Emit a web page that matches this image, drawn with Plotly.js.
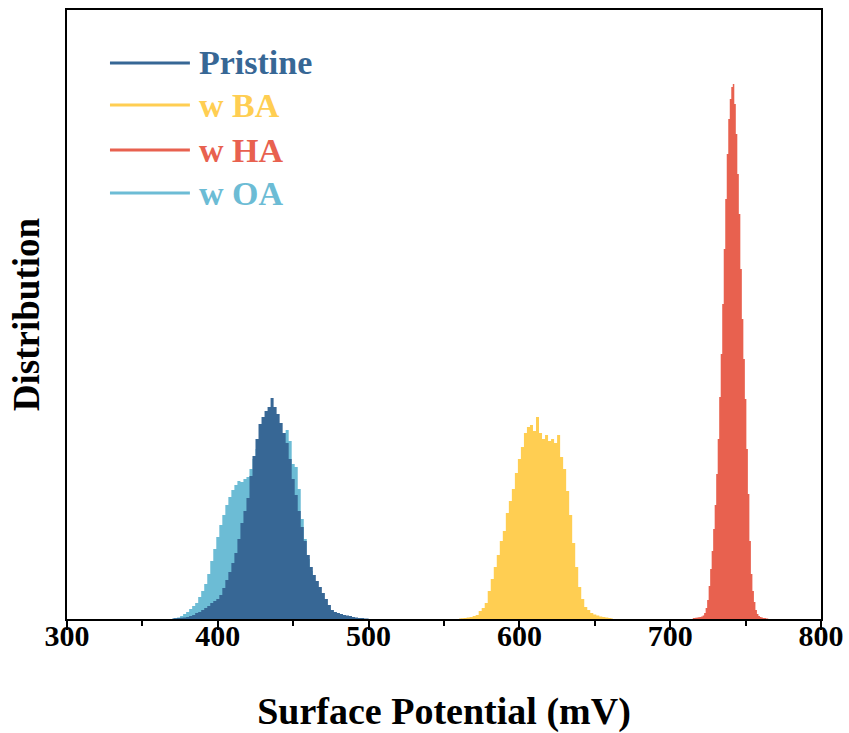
<!DOCTYPE html>
<html>
<head>
<meta charset="utf-8">
<script src="https://cdn.plot.ly/plotly-3.0.1.min.js"></script>
<style>html,body{margin:0;padding:0;background:#fff;}#chart{width:849px;height:733px;}</style>
</head>
<body>
<div id="chart"></div>
<script>
// Series names and colours
const seriesNames = ["Pristine", "w BA", "w HA", "w OA"];
const seriesColors = ["#376795", "#FFCE52", "#E8614F", "#6CBCD5"];

// Histogram bins: start (mV) and width (mV) for each series
const pristineStart = 370, pristineStep = 2;
const pristineCounts = [0.5,0.8,1,1.2,1.5,2,3,4,6,7,9,11,13,16,18,20,24,31,39,47,56,66,80,96,108,121,143,163,180,195,202,208,212,221,212,205,196,186,176,160,140,124,108,92,78,64,52,44,38,32,26,20,14,9,7,6,5,4,3.5,3,2,1.5,1,1,0.5,0.5];

const oaStart = 370, oaStep = 2;
const oaCounts = [0.5,1,1.5,3,5,7,10,13,16,22,28,35,45,58,70,82,94,104,114,122,129,134,138,137,140,142,150,160,170,178,184,188,190,192,190,188,186,186,189,178,155,152,130,100,80,60,48,38,30,24,18,14,10,7,5,4,3,2,1.5,1,0.5];

const baStart = 560, baStep = 2;
const baCounts = [0.5,0.8,1,1.5,2,3,4,8,11,16,28,40,52,64,78,88,106,118,130,146,160,172,186,192,194,188,202,186,180,184,178,180,176,184,162,150,128,104,76,52,32,20,12,9,6,4.5,3.5,2.5,2,1.5,1,0.5];

const haStart = 715, haStep = 1;
const haCounts = [1,1,1.2,1.5,1.8,2,2.5,3.5,6,11,19,33,50,68,90,114,145,180,222,265,315,370,420,465,500,520,532,535,515,485,445,405,350,300,260,220,170,125,78,45,28,17,9,5,3,2,1.5,1,1,0.5,0.5];

const xTickVals = [300, 400, 500, 600, 700, 800];
const xTickText = ["300", "400", "500", "600", "700", "800"];

const FONT = "'Liberation Serif', 'Times New Roman', serif";

function histTrace(counts, start, step, color, name) {
  return {
    type: "scatter", mode: "lines",
    y: counts, x0: start, dx: step,
    line: {shape: "hvh", color: color, width: 0},
    fill: "tozeroy", fillcolor: color,
    name: name, showlegend: false, hoverinfo: "x+y"
  };
}

const traces = [
  histTrace(oaCounts, oaStart, oaStep, seriesColors[3], seriesNames[3]),
  histTrace(pristineCounts, pristineStart, pristineStep, seriesColors[0], seriesNames[0]),
  histTrace(baCounts, baStart, baStep, seriesColors[1], seriesNames[1]),
  histTrace(haCounts, haStart, haStep, seriesColors[2], seriesNames[2])
];

// Custom legend (line + coloured bold label)
const legendRowsY = [0.913, 0.844, 0.770, 0.6995];
const shapes = [], annotations = [];
seriesNames.forEach((n, i) => {
  shapes.push({type: "line", xref: "paper", yref: "paper",
    x0: 0.057, x1: 0.163, y0: legendRowsY[i], y1: legendRowsY[i],
    line: {color: seriesColors[i], width: 3}});
  annotations.push({xref: "paper", yref: "paper", x: 0.172, y: legendRowsY[i],
    xanchor: "left", yanchor: "middle", showarrow: false,
    text: "<b>" + n + "</b>", font: {family: FONT, size: 34, color: seriesColors[i]}});
});

const layout = {
  width: 849, height: 733,
  margin: {l: 67, r: 28, t: 10, b: 114},
  paper_bgcolor: "#fff", plot_bgcolor: "#fff",
  showlegend: false,
  font: {family: FONT, color: "#000"},
  xaxis: {
    range: [300, 800], tickvals: xTickVals, ticktext: xTickText,
    ticks: "outside", ticklen: 9, tickwidth: 2, tickcolor: "#000",
    ticklabelstandoff: -20,
    minor: {dtick: 50, ticks: "outside", ticklen: 5, tickwidth: 2, tickcolor: "#000"},
    showline: true, linewidth: 2, linecolor: "#000", mirror: true,
    showgrid: false, zeroline: false,
    tickfont: {family: FONT, size: 30, color: "#000", weight: "bold"},
    title: {text: "<b>Surface Potential (mV)</b>", font: {family: FONT, size: 38, color: "#000"}, standoff: 47}
  },
  yaxis: {
    range: [0, 609], showticklabels: false, ticks: "",
    showline: true, linewidth: 2, linecolor: "#000", mirror: true,
    showgrid: false, zeroline: false,
    title: {text: "<b>Distribution</b>", font: {family: FONT, size: 37, color: "#000"}, standoff: 14}
  },
  shapes: shapes,
  annotations: annotations
};

Plotly.newPlot("chart", traces, layout, {displayModeBar: false, staticPlot: true});
</script>
</body>
</html>
